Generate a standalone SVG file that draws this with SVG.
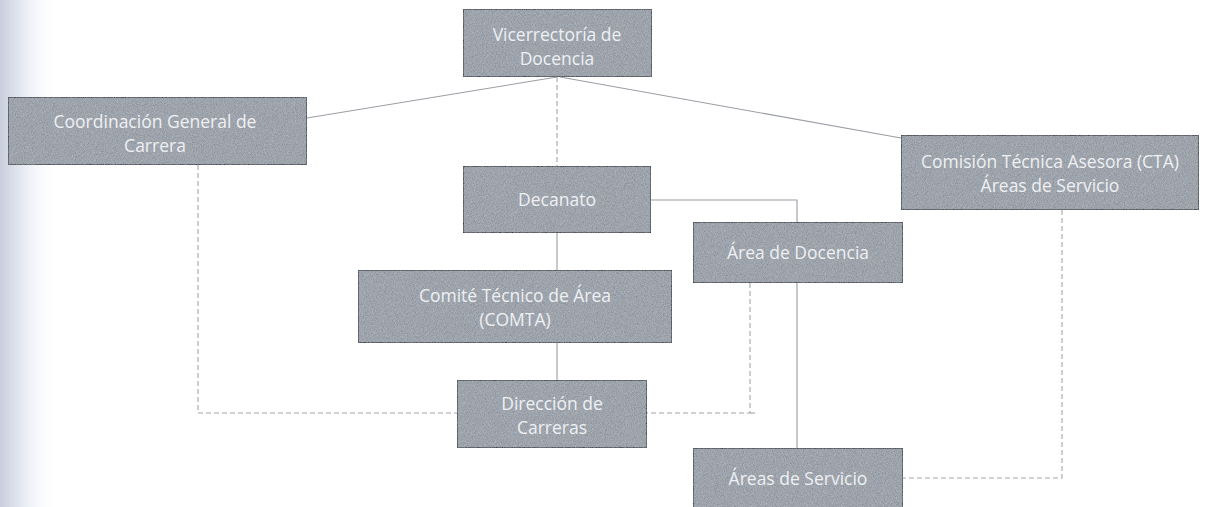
<svg xmlns="http://www.w3.org/2000/svg" width="1212" height="507" viewBox="0 0 1212 507">
<defs>
<linearGradient id="edge" x1="0" y1="0" x2="1" y2="0">
<stop offset="0" stop-color="#c8cfdc"/>
<stop offset="0.4" stop-color="#e8ecf3"/>
<stop offset="1" stop-color="#ffffff" stop-opacity="0"/>
</linearGradient>
<filter id="grain" x="0" y="0" width="100%" height="100%">
<feTurbulence type="fractalNoise" baseFrequency="1.1" numOctaves="2" seed="5" result="t"/>
<feColorMatrix in="t" type="matrix" values="0.33 0.33 0.33 0 0  0.33 0.33 0.33 0 0  0.33 0.33 0.33 0 0  0 0 0 0 1" result="g"/>
<feComposite in="SourceGraphic" in2="g" operator="arithmetic" k1="0" k2="1" k3="0.5" k4="-0.25" result="c"/>
<feComposite in="c" in2="SourceAlpha" operator="in"/>
</filter>
<style>
.box{fill:#9ea4ac;stroke:#575b61;stroke-width:1.6;filter:url(#grain)}
.lbl{font-family:"Open Sans","Liberation Sans",sans-serif;font-size:17.5px;fill:#eef0f3;text-anchor:middle}
.solid{fill:none;stroke:#9a9ea5;stroke-width:1.1}
.dash{fill:none;stroke:#a2a6ac;stroke-width:1.1;stroke-dasharray:5 3}
</style>
</defs>
<rect x="0" y="0" width="1212" height="507" fill="#ffffff"/>
<rect x="0" y="0" width="60" height="507" fill="url(#edge)"/>

<g id="connectors">
<line class="solid" x1="557" y1="77" x2="307" y2="118"/>
<line class="solid" x1="560" y1="77" x2="901" y2="138"/>
<line class="dash" x1="557" y1="77" x2="557" y2="166"/>
<polyline class="solid" points="651,200 797,200 797,222"/>
<line class="solid" x1="557" y1="233" x2="557" y2="270"/>
<line class="solid" x1="557" y1="343" x2="557" y2="380"/>
<line class="solid" x1="797" y1="283" x2="797" y2="448"/>
<polyline class="dash" points="750,283 750,413 647,413"/>
<line class="dash" x1="750" y1="413" x2="756" y2="413"/>
<polyline class="dash" points="198,165 198,413 457,413"/>
<polyline class="dash" points="1062,210 1062,478 903,478"/>
</g>

<g id="vicerrectoria">
<rect class="box" x="463" y="9" width="189" height="68"/>
<text class="lbl" x="557" y="41">Vicerrectoría de</text>
<text class="lbl" x="557" y="65">Docencia</text>
</g>
<g id="coordinacion">
<rect class="box" x="8" y="97" width="299" height="68"/>
<text class="lbl" x="155" y="128">Coordinación General de</text>
<text class="lbl" x="155" y="152">Carrera</text>
</g>
<g id="cta">
<rect class="box" x="901" y="135" width="298" height="75"/>
<text class="lbl" x="1050" y="168">Comisión Técnica Asesora (CTA)</text>
<text class="lbl" x="1050" y="192">Áreas de Servicio</text>
</g>
<g id="decanato">
<rect class="box" x="463" y="166" width="188" height="67"/>
<text class="lbl" x="557" y="206">Decanato</text>
</g>
<g id="area-docencia">
<rect class="box" x="693" y="222" width="210" height="61"/>
<text class="lbl" x="798" y="259">Área de Docencia</text>
</g>
<g id="comta">
<rect class="box" x="358" y="270" width="314" height="73"/>
<text class="lbl" x="515" y="302">Comité Técnico de Área</text>
<text class="lbl" x="515" y="326">(COMTA)</text>
</g>
<g id="direccion">
<rect class="box" x="457" y="380" width="190" height="68"/>
<text class="lbl" x="552" y="410">Dirección de</text>
<text class="lbl" x="552" y="434">Carreras</text>
</g>
<g id="areas-servicio">
<rect class="box" x="693" y="448" width="210" height="64"/>
<text class="lbl" x="798" y="485">Áreas de Servicio</text>
</g>
</svg>
